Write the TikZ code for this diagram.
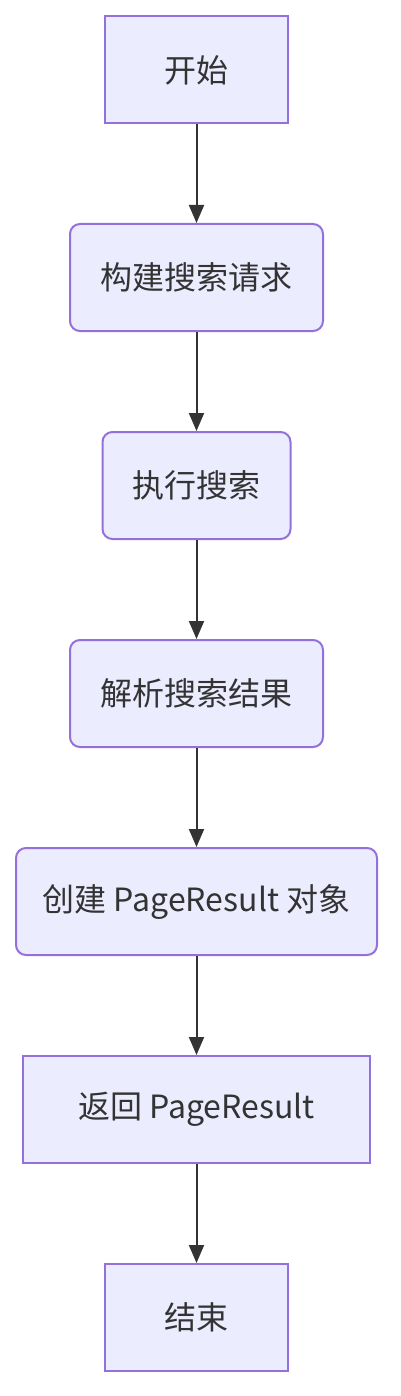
\documentclass[tikz,border=0pt]{standalone}
\usepackage{fontspec}
\setmainfont{Noto Sans CJK SC}
\usetikzlibrary{arrows.meta}
\definecolor{nodefill}{HTML}{ECECFF}
\definecolor{nodeline}{HTML}{9370DB}
\definecolor{edgecol}{HTML}{333333}
\begin{document}
\begin{tikzpicture}[x=1pt,y=-1pt,
  box/.style={draw=nodeline, fill=nodefill, line width=2pt, inner sep=0pt,
    font=\fontsize{32}{38}\selectfont, text=edgecol, minimum height=107pt},
  rbox/.style={box, rounded corners=10pt},
  edge/.style={draw=edgecol, line width=2pt, -{Triangle[length=18pt,width=15pt]}}]
\useasboundingbox[fill=white] (0,0) rectangle (401,1396);
\node[box, minimum width=183pt] (a) at (196.5,70) {开始};
\node[rbox, minimum width=253pt] (b) at (196.5,277.5) {构建搜索请求};
\node[rbox, minimum width=188pt] (c) at (196.5,485.5) {执行搜索};
\node[rbox, minimum width=253pt] (d) at (196.5,693.5) {解析搜索结果};
\node[rbox, minimum width=361pt] (e) at (196.5,901.5) {创建 PageResult 对象};
\node[box, minimum width=347pt] (f) at (196.5,1109.5) {返回 PageResult};
\node[box, minimum width=183pt] (g) at (196.5,1317.5) {结束};
\draw[edge] (a) -- (b);
\draw[edge] (b) -- (c);
\draw[edge] (c) -- (d);
\draw[edge] (d) -- (e);
\draw[edge] (e) -- (f);
\draw[edge] (f) -- (g);
\end{tikzpicture}
\end{document}
